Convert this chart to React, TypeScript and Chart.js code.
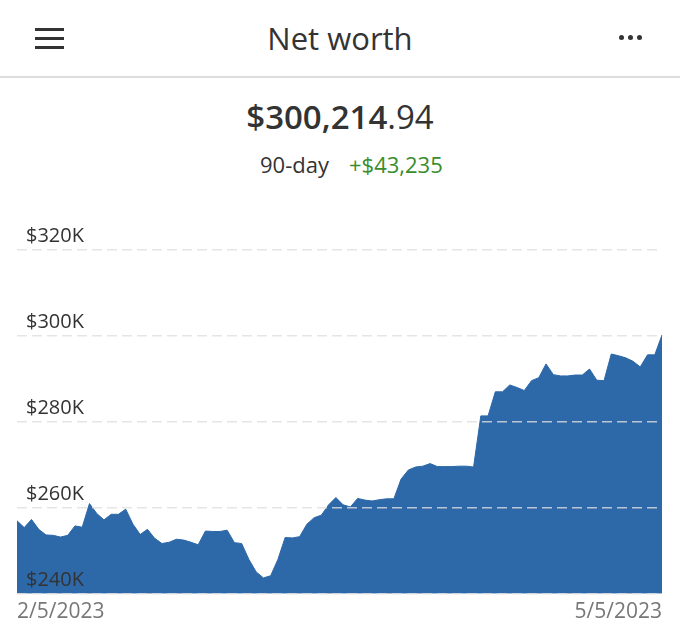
import React, { useEffect, useRef } from "react";
import { Chart, registerables } from "chart.js";

Chart.register(...registerables);

const TITLE = "Net worth";
const BALANCE_MAIN = "$300,214";
const BALANCE_CENTS = ".94";
const PERIOD_LABEL = "90-day";
const PERIOD_CHANGE = "+$43,235";

const START_DATE = [2023, 1, 5]; // year, monthIndex, day (Feb 5, 2023)
const DAY_COUNT = 90;

// Net worth in thousands of dollars, one point per day (2/5/2023 .. 5/5/2023)
const netWorthK = [
  256.98, 255.4, 257.3, 255.0, 253.7, 253.6, 253.2, 253.6, 255.8, 255.5,
  261.0, 258.7, 257.2, 258.5, 258.5, 259.7, 256.2, 253.8, 255.0, 252.9,
  251.7, 252.0, 252.7, 252.5, 252.0, 251.4, 254.6, 254.5, 254.5, 254.8,
  251.9, 251.7, 248.0, 245.1, 243.7, 244.2, 248.0, 253.1, 253.0, 253.3,
  256.2, 257.7, 258.3, 260.7, 262.4, 260.7, 260.2, 262.2, 261.8, 261.6,
  261.9, 262.1, 262.1, 266.7, 268.8, 269.5, 269.7, 270.3, 269.6, 269.6,
  269.6, 269.7, 269.7, 269.5, 281.4, 281.4, 287.0, 287.0, 288.6, 288.0,
  287.3, 289.6, 290.3, 293.5, 291.0, 290.7, 290.7, 290.9, 290.9, 292.3,
  289.7, 289.6, 295.8, 295.4, 294.9, 294.1, 292.8, 295.6, 295.6, 300.21,
];

const yTicksK = [240, 260, 280, 300, 320];

const dateLabels: string[] = [];
for (let i = 0; i < DAY_COUNT; i++) {
  const d = new Date(START_DATE[0], START_DATE[1], START_DATE[2] + i);
  dateLabels.push(`${d.getMonth() + 1}/${d.getDate()}/${d.getFullYear()}`);
}

const FONT = "'Open Sans', 'Noto Sans', sans-serif";

export default function App() {
  const canvasRef = useRef<HTMLCanvasElement | null>(null);

  useEffect(() => {
    if (!canvasRef.current) return;
    const chart = new Chart(canvasRef.current, {
      type: "line",
      data: {
        labels: dateLabels,
        datasets: [
          {
            data: netWorthK,
            fill: "start",
            backgroundColor: "#2d68a8",
            borderColor: "#2d68a8",
            borderWidth: 1,
            pointRadius: 0,
            tension: 0,
          },
        ],
      },
      options: {
        animation: false,
        responsive: false,
        maintainAspectRatio: false,
        layout: { padding: { top: 50, left: 17, right: 18, bottom: 3 } },
        plugins: { legend: { display: false }, tooltip: { enabled: false } },
        scales: {
          x: {
            offset: false,
            grid: { display: false, drawTicks: false },
            border: { display: false },
            ticks: {
              autoSkip: false,
              maxRotation: 0,
              minRotation: 0,
              align: "inner",
              padding: 6,
              color: "#777777",
              font: { family: FONT, size: 21 },
              callback: (_v: any, i: number) =>
                i === 0 || i === dateLabels.length - 1 ? dateLabels[i] : "",
            },
          },
          y: {
            min: yTicksK[0],
            max: yTicksK[yTicksK.length - 1],
            afterBuildTicks: (axis: any) => {
              axis.ticks = yTicksK.map((v) => ({ value: v }));
            },
            afterFit: (axis: any) => {
              axis.width = 0;
            },
            grid: {
              color: "rgba(222,222,222,0.8)",
              lineWidth: 1.5,
              drawTicks: false,
              z: 1,
            },
            border: { display: false, dash: [10, 5], z: 1 },
            ticks: {
              mirror: true,
              padding: 9,
              labelOffset: -14,
              z: 2,
              color: "#333333",
              font: { family: FONT, size: 20 },
              callback: (v: any) => `$${v}K`,
            },
          },
        },
      },
    });
    return () => chart.destroy();
  }, []);

  return (
    <div
      style={{
        position: "absolute",
        left: 0,
        top: 0,
        width: 680,
        height: 634,
        background: "#ffffff",
        fontFamily: FONT,
        color: "#333333",
        overflow: "hidden",
      }}
    >
      {/* hamburger */}
      {[28, 37, 46].map((t) => (
        <div
          key={t}
          style={{
            position: "absolute",
            left: 35,
            top: t,
            width: 29,
            height: 2.5,
            background: "#333333",
          }}
        />
      ))}
      {/* more dots */}
      {[619, 628, 637].map((l) => (
        <div
          key={l}
          style={{
            position: "absolute",
            left: l,
            top: 35,
            width: 5,
            height: 5,
            borderRadius: "50%",
            background: "#333333",
          }}
        />
      ))}
      <div
        style={{
          position: "absolute",
          left: 0,
          width: 680,
          top: 23,
          fontSize: 31,
          lineHeight: "31px",
          textAlign: "center",
          color: "#333333",
        }}
      >
        {TITLE}
      </div>
      <div
        style={{
          position: "absolute",
          left: 0,
          top: 76,
          width: 680,
          height: 2,
          background: "#dddddd",
        }}
      />
      <div
        style={{
          position: "absolute",
          left: 0,
          width: 680,
          top: 100,
          fontSize: 33,
          lineHeight: "33px",
          textAlign: "center",
          color: "#333333",
          whiteSpace: "nowrap",
        }}
      >
        <span style={{ fontWeight: 600 }}>{BALANCE_MAIN}</span>
        <span style={{ fontWeight: 400 }}>{BALANCE_CENTS}</span>
      </div>
      <div
        style={{
          position: "absolute",
          left: 260,
          top: 153,
          fontSize: 22,
          lineHeight: "22px",
          whiteSpace: "nowrap",
          color: "#333333",
        }}
      >
        {PERIOD_LABEL}
      </div>
      <div
        style={{
          position: "absolute",
          left: 349,
          top: 153,
          fontSize: 22,
          lineHeight: "22px",
          whiteSpace: "nowrap",
          color: "#3a8d2c",
        }}
      >
        {PERIOD_CHANGE}
      </div>
      <canvas
        ref={canvasRef}
        width={680}
        height={434}
        style={{ position: "absolute", left: 0, top: 200, width: 680, height: 434 }}
      />
    </div>
  );
}
